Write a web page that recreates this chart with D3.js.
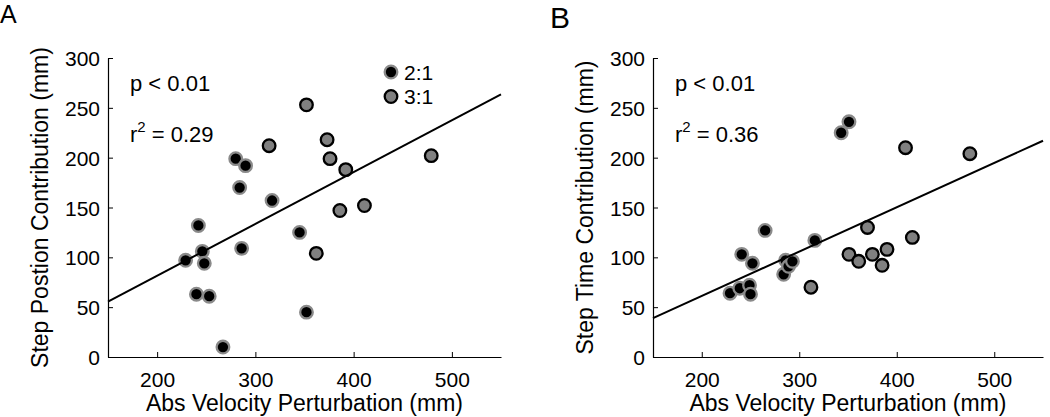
<!DOCTYPE html>
<html>
<head>
<meta charset="utf-8">
<script src="https://cdn.jsdelivr.net/npm/d3@7"></script>
<style>
  body { margin: 0; background: #fff; }
  text { font-family: "Liberation Sans", Arial, sans-serif; fill: #000; }
</style>
</head>
<body>
<svg width="1050" height="417"></svg>
<script>
// panel A: step position contribution vs abs velocity perturbation
const xA21 = [229, 240, 242, 246, 248, 253, 267, 280, 284, 286, 290, 317, 345, 352];
const yA21 = [97, 63, 132, 106, 94, 61, 10, 199, 170, 109, 192, 157, 125, 45];
const xA31 = [314, 352, 362, 373, 376, 386, 392, 411, 479];
const yA31 = [212, 253, 104, 218, 199, 147, 188, 152, 202];
const fitA = [[150, 55.5], [550, 263.5]];

// panel B: step time contribution vs abs velocity perturbation
const xB21 = [229, 239, 249, 250, 241, 252, 265, 284, 286, 289, 293, 316, 343, 351];
const yB21 = [64, 69, 72, 63, 103, 94, 127, 83, 97, 91, 96, 117, 225, 236];
const xB31 = [312, 351, 361, 370, 375, 385, 390, 409, 416, 475];
const yB31 = [70, 103, 96, 130, 103, 92, 108, 210, 120, 204];
const fitB = [[150, 39], [550, 217]];

const xTicks = [200, 300, 400, 500];
const yTicks = [0, 50, 100, 150, 200, 250, 300];
const legendLabels = ["2:1", "3:1"];

const svg = d3.select("svg");

const style21 = { fill: "#000", stroke: "#8a8a8a" };
const style31 = { fill: "#808080", stroke: "#000" };

function panel(p) {
  const x = d3.scaleLinear().domain([150, 550]).range([p.x0, p.x1]);
  const y = d3.scaleLinear().domain([0, 300]).range([357, 58]);
  const g = svg.append("g");

  // axes, matlab style with inward ticks
  const xa = g.append("g").attr("transform", "translate(0,357)")
    .call(d3.axisBottom(x).tickValues(xTicks).tickSizeInner(-5).tickSizeOuter(0).tickPadding(12));
  const ya = g.append("g").attr("transform", `translate(${p.x0},0)`)
    .call(d3.axisLeft(y).tickValues(yTicks).tickSizeInner(-5).tickSizeOuter(0).tickPadding(8));
  [xa, ya].forEach(a => {
    a.select(".domain").attr("stroke", "#000").attr("stroke-width", 1.2);
    a.selectAll(".tick line").attr("stroke", "#000");
    a.selectAll("text").attr("font-size", 21).attr("font-family", "Liberation Sans, Arial, sans-serif");
  });
  xa.selectAll(".tick text").attr("dy", "0.85em");
  ya.selectAll(".tick text").attr("dy", "0.36em");

  const pts = (xs, ys, st) => g.append("g").selectAll("circle")
    .data(xs.map((v, i) => [v, ys[i]]))
    .join("circle")
      .attr("cx", d => x(d[0]))
      .attr("cy", d => y(d[1]))
      .attr("r", 6.3)
      .attr("fill", st.fill)
      .attr("stroke", st.stroke)
      .attr("stroke-width", 2.3);
  pts(p.x31, p.y31, style31);
  pts(p.x21, p.y21, style21);

  g.append("line")
    .attr("x1", x(p.fit[0][0])).attr("y1", y(p.fit[0][1]))
    .attr("x2", x(p.fit[1][0])).attr("y2", y(p.fit[1][1]))
    .attr("stroke", "#000").attr("stroke-width", 2);

  g.append("text").attr("x", p.x0 + 22).attr("y", 91).attr("font-size", 22).text("p < 0.01");
  const r = g.append("text").attr("x", p.x0 + 22).attr("y", 142).attr("font-size", 22);
  r.append("tspan").text("r");
  r.append("tspan").attr("font-size", 15).attr("dy", -10).text("2");
  r.append("tspan").attr("dy", 10).text(" = " + p.r2);

  g.append("text")
    .attr("transform", `translate(${p.x0 - 60},207.5) rotate(-90)`)
    .attr("text-anchor", "middle").attr("font-size", 23).text(p.ylab);
  g.append("text")
    .attr("x", (p.x0 + p.x1) / 2).attr("y", 411)
    .attr("text-anchor", "middle").attr("font-size", 23).text("Abs Velocity Perturbation (mm)");

  g.append("text").attr("x", p.lx).attr("y", p.ly).attr("font-size", p.lsize)
    .attr("font-family", p.lfont).text(p.letter);
  return { g, x, y };
}

const A = panel({ x0: 108, x1: 501, x21: xA21, y21: yA21, x31: xA31, y31: yA31, fit: fitA, r2: "0.29",
  ylab: "Step Postion Contribution (mm)", letter: "A", lx: 0, ly: 23, lsize: 25, lfont: "Liberation Sans" });
panel({ x0: 653, x1: 1043, x21: xB21, y21: yB21, x31: xB31, y31: yB31, fit: fitB, r2: "0.36",
  ylab: "Step Time Contribution (mm)", letter: "B", lx: 550, ly: 28, lsize: 30, lfont: "Open Sans" });

// legend in panel A
const leg = A.g.append("g").selectAll("g")
  .data(legendLabels)
  .join("g")
    .attr("transform", (d, i) => `translate(391,${72 + i * 24.5})`);
leg.append("circle").attr("r", 6.3).attr("stroke-width", 2.3)
  .attr("fill", (d, i) => i ? style31.fill : style21.fill)
  .attr("stroke", (d, i) => i ? style31.stroke : style21.stroke);
leg.append("text").attr("x", 13).attr("y", 7.5).attr("font-size", 21).text(d => d);
</script>
</body>
</html>
